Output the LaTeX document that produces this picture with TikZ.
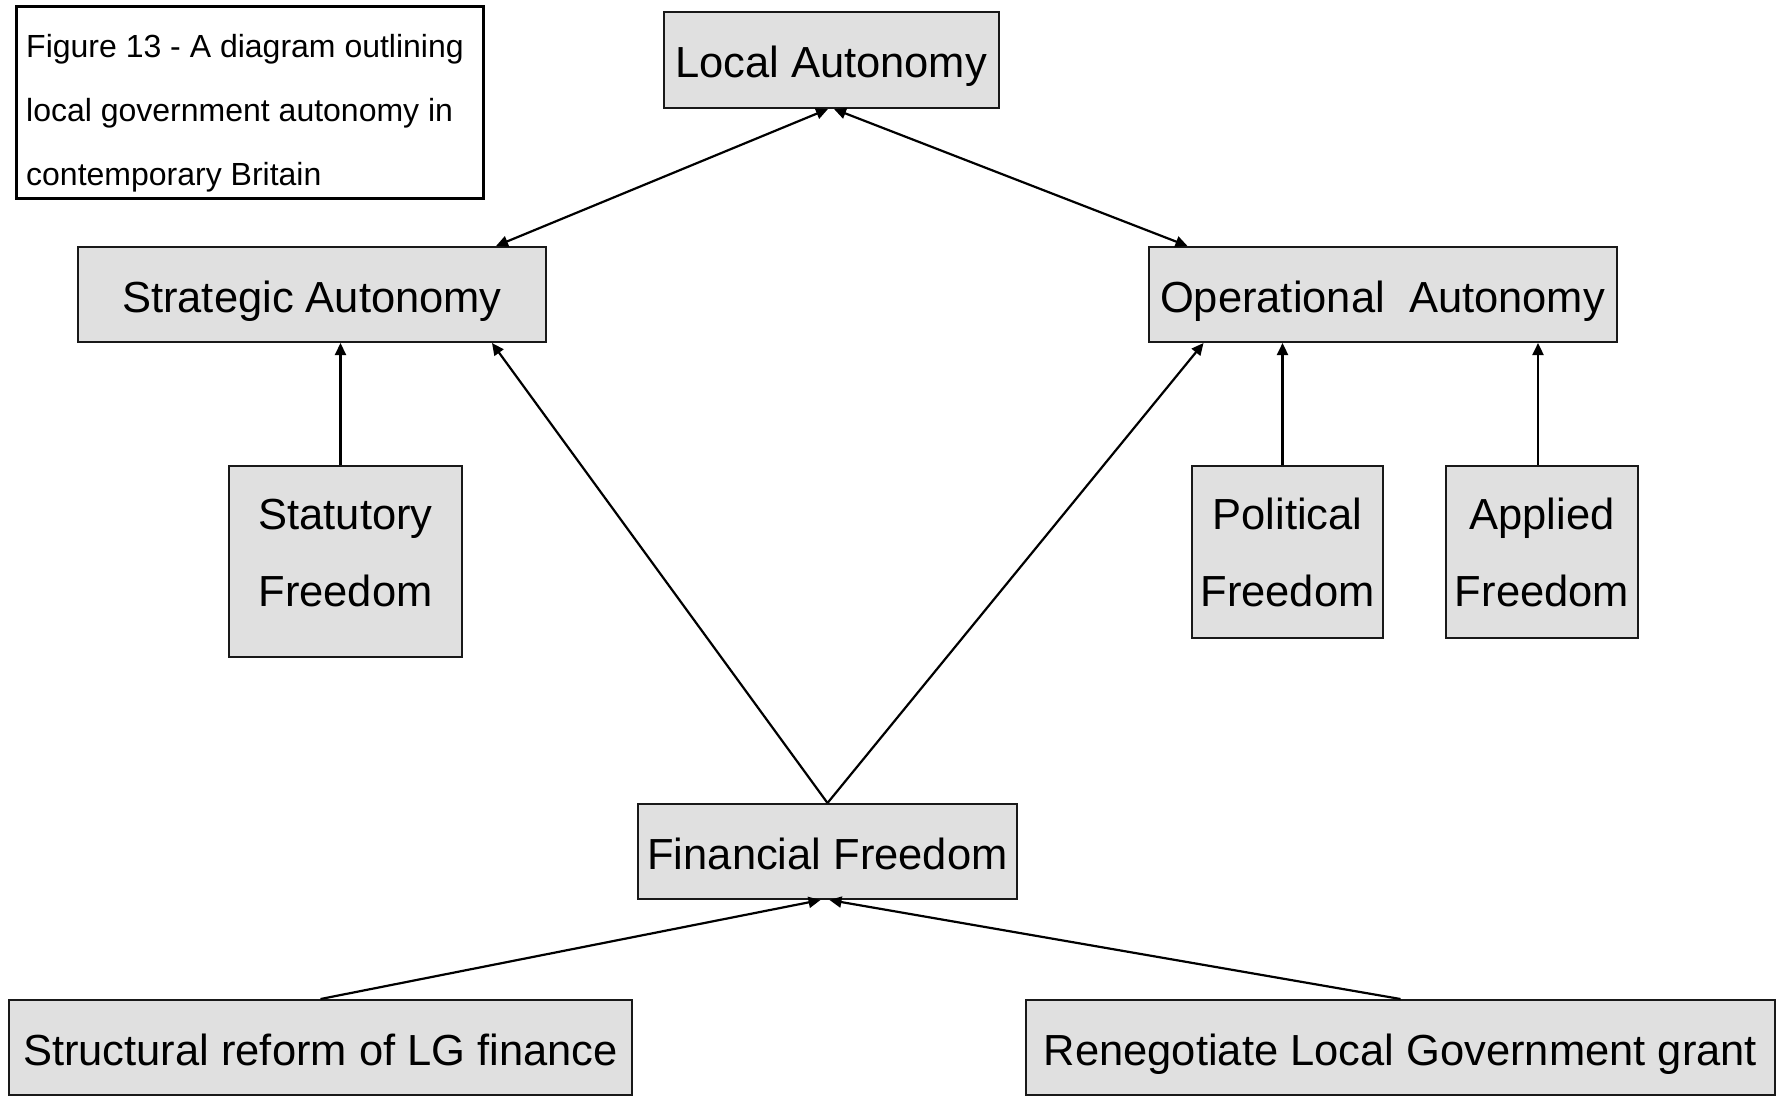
\documentclass[tikz,border=0pt]{standalone}
\usepackage{fontspec}
\setmainfont{Liberation Sans}
\usepackage{tikz}
\usetikzlibrary{arrows.meta, calc, positioning}
\definecolor{boxgray}{RGB}{224,224,224}
\tikzstyle{block} = [rectangle, line width=2pt, draw=black!90, fill=boxgray, align=center, inner sep=0pt, font=\fontsize{43.5}{77}\selectfont]
\tikzstyle{oneline} = [block, text height=38pt, text depth=3pt]
\tikzstyle{capbox} = [rectangle, line width=2.5pt, draw=black, fill=white, inner sep=0pt]
\tikzstyle{captext} = [align=left, inner sep=0pt, font=\fontsize{32}{64}\selectfont]
\tikzstyle{arrow} = [line width=2.2pt, -{Triangle[length=12pt,width=11pt]}]
\tikzstyle{biarrow} = [line width=2.2pt, {Triangle[length=12pt,width=11pt]}-{Triangle[length=12pt,width=11pt]}]
\begin{document}
\begin{tikzpicture}[x=1pt, y=-1pt]
		\useasboundingbox (0,0) rectangle (1776,1096);
		\node (Caption) [capbox, anchor=north west, minimum width=467, minimum height=192] at (15,5) {};
		\node (CaptionText) [captext, anchor=north west] at (26,34) {Figure 13 - A diagram outlining\\local government autonomy in\\contemporary Britain};
		\node (Local) [oneline, minimum width=335, minimum height=96] at (831,60) {Local Autonomy};
		\node (Strategic) [oneline, minimum width=468, minimum height=95] at (312,294.5) {Strategic Autonomy};
		\node (Operational) [oneline, minimum width=468, minimum height=95] at (1382.5,294.5) {Operational~~Autonomy};
		\node (Statutory) [block, minimum width=233, minimum height=191, label={[align=center, yshift=8, font=\fontsize{43.5}{77}\selectfont]center:Statutory\\Freedom}] at (345.5,561.5) {};
		\node (Political) [block, minimum width=191, minimum height=172] at (1287.5,552) {Political\\Freedom};
		\node (Applied) [block, minimum width=192, minimum height=172, right = 61 of Political] {Applied\\Freedom};
		\node (Financial) [oneline, minimum width=379, minimum height=95] at (827.5,851.5) {Financial Freedom};
		\node (Structural) [oneline, minimum width=623, minimum height=95] at (320.5,1047.5) {Structural reform of LG finance};
		\node (Renegotiate) [oneline, minimum width=749, minimum height=95] at (1400.5,1047.5) {Renegotiate Local Government grant};
		
		\draw [biarrow] ([xshift=-3]Local.south) -- ([xshift=-51]Strategic.north east);
		\draw [biarrow] ([xshift=3]Local.south) -- ([xshift=40]Operational.north west);
		\draw [arrow] (Financial.north) -- ([xshift=-55]Strategic.south east);
		\draw [arrow] (Financial.north) -- ([xshift=56]Operational.south west);
		\draw [arrow] ([xshift=-5]Statutory.north) -- ([xshift=-5]Statutory.north |- Strategic.south);
		\draw [arrow] ([xshift=-5]Political.north) -- ([xshift=-5]Political.north |- Operational.south);
		\draw [arrow] ([xshift=-4]Applied.north) -- ([xshift=-4]Applied.north |- Operational.south);
		\draw [arrow] (Structural.north) -- ([xshift=-7]Financial.south);
		\draw [arrow] (Renegotiate.north) -- ([xshift=2]Financial.south);
\end{tikzpicture}
\end{document}
